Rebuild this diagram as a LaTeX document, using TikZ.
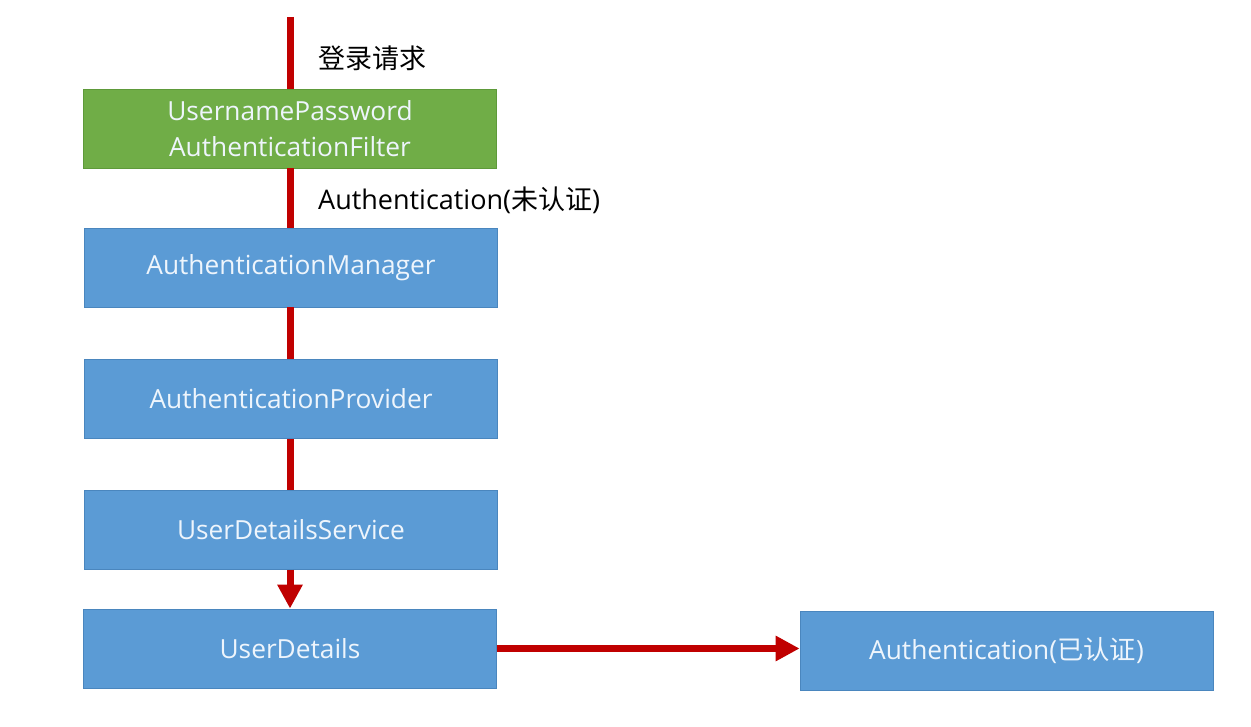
\documentclass[tikz,border=0pt]{standalone}
\usepackage{fontspec}
\setmainfont{Open Sans}
\newfontfamily\cjk{Noto Sans CJK SC}
\usetikzlibrary{arrows.meta}
\definecolor{boxblue}{HTML}{5B9BD5}
\definecolor{boxgreen}{HTML}{70AD47}
\definecolor{blueedge}{HTML}{4A86BE}
\definecolor{greenedge}{HTML}{5E9A3A}
\definecolor{flowred}{HTML}{C00000}
\definecolor{boxtext}{HTML}{EEF5FC}
\tikzset{
  stepbox/.style={draw=blueedge, fill=boxblue, line width=0.8pt, minimum width=413pt, minimum height=79pt, inner sep=0pt, text=boxtext, align=center, font=\fontsize{26.3}{36}\selectfont},
  greenbox/.style={stepbox, draw=greenedge, fill=boxgreen},
  flow/.style={draw=flowred, line width=7pt},
  flowarrow/.style={flow, -{Triangle[width=24pt,length=24pt]}},
  lbl/.style={anchor=west, inner sep=0pt, text=black, font=\fontsize{27}{30}\selectfont}
}
\begin{document}
\begin{tikzpicture}[x=1pt,y=-1pt]
\useasboundingbox (0,0) rectangle (1251,727);
\fill[white] (0,0) rectangle (1251,727);
\node[greenbox] (filter) at (290,128.5) {UsernamePassword\\AuthenticationFilter};
\node[stepbox] (mgr) at (291,267.5) {AuthenticationManager};
\node[stepbox] (prov) at (291,399) {AuthenticationProvider};
\node[stepbox] (uds) at (291,530) {UserDetailsService};
\node[stepbox] (ud) at (290,648.5) {UserDetails};
\node[stepbox] (auth) at (1006.5,651) {Authentication({\cjk 已认证})};
\coordinate (start) at (290,17);
\node[lbl] (l1) at (318,58) {\cjk 登录请求};
\node[lbl] (l2) at (318,200) {Authentication({\cjk 未认证})};
\draw[flow] (start) -- (start |- filter.north);
\draw[flow] (filter.south -| start) -- (start |- mgr.north);
\draw[flow] (mgr.south -| start) -- (start |- prov.north);
\draw[flow] (prov.south -| start) -- (start |- uds.north);
\draw[flowarrow] (uds.south -| start) -- (start |- ud.north);
\draw[flowarrow] (ud.east) -- (ud.east -| auth.west);
\end{tikzpicture}
\end{document}
